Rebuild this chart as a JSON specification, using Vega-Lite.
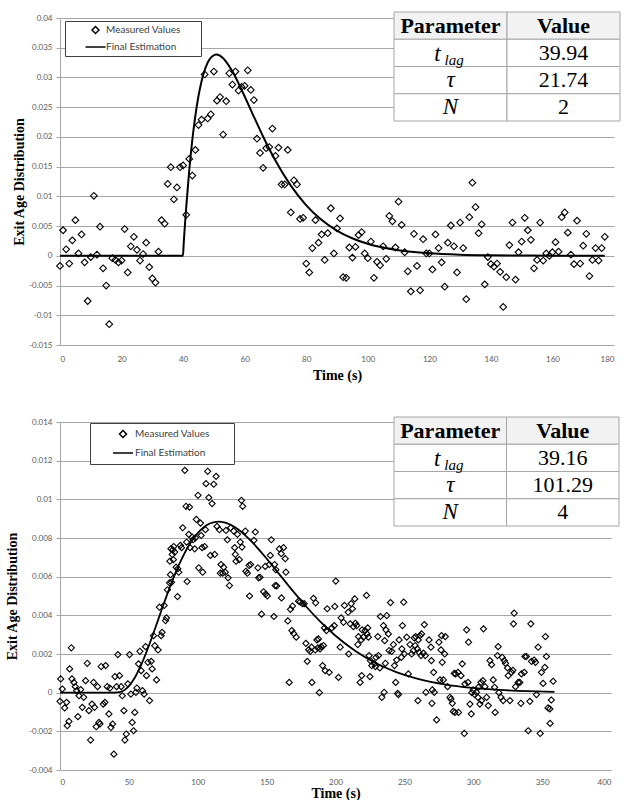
{
"$schema": "https://vega.github.io/schema/vega-lite/v6.json",
"padding": {"left": 5, "top": 11, "right": 0, "bottom": 0},
"spacing": 34,
"background": "white",
"resolve": {"scale": {"shape": "independent"}, "legend": {"shape": "independent"}},
"config": {
  "view": {"stroke": null},
  "axis": {"labelFont": "Lato", "labelFontSize": 8, "labelColor": "#595959", "titleFont": "Liberation Serif", "titleFontWeight": "bold", "titleFontSize": 14, "titleColor": "black", "labelOverlap": false, "tickCount": 50},
  "axisX": {"grid": false, "domain": false, "ticks": false, "tickSize": 0, "labelPadding": 10, "titlePadding": 5},
  "axisY": {"grid": true, "gridColor": "#a6a6a6", "gridWidth": 1, "domain": true, "domainColor": "#a6a6a6", "ticks": true, "tickColor": "#a6a6a6", "tickSize": 4, "labelPadding": 4, "titlePadding": 7}
},
"datasets": {
"pts1": [
{"t":0,"v":-0.0017},{"t":1,"v":0.0043},{"t":2,"v":0.0011},{"t":3,"v":-0.0013},{"t":4,"v":0.0026},{"t":5,"v":0.006},{"t":6,"v":0.0004},{"t":7,"v":0.0036},{"t":8,"v":-0.0011},{"t":9,"v":-0.0076},
{"t":10,"v":-0.0002},{"t":11,"v":0.0101},{"t":12,"v":0.0002},{"t":13,"v":0.0049},{"t":14,"v":-0.0021},{"t":15,"v":-0.005},{"t":16,"v":-0.0115},{"t":17,"v":-0.0004},{"t":18,"v":-0.0007},{"t":19,"v":-0.0011},
{"t":20,"v":-0.0008},{"t":21,"v":0.0045},{"t":22,"v":-0.0028},{"t":23,"v":0.0016},{"t":24,"v":0.0032},{"t":25,"v":0.001},{"t":26,"v":-0.0008},{"t":27,"v":0.0003},{"t":28,"v":0.0022},{"t":29,"v":-0.0019},
{"t":30,"v":-0.0038},{"t":31,"v":-0.0045},{"t":32,"v":0.0007},{"t":33,"v":0.006},{"t":34,"v":0.0054},{"t":35,"v":0.0121},{"t":36,"v":0.0149},{"t":37,"v":0.0095},{"t":38,"v":0.0115},{"t":39,"v":0.0149},
{"t":40,"v":0.0152},{"t":41,"v":0.0069},{"t":42,"v":0.0163},{"t":43,"v":0.0135},{"t":44,"v":0.0178},{"t":45,"v":0.022},{"t":46,"v":0.0229},{"t":47,"v":0.0305},{"t":48,"v":0.0231},{"t":49,"v":0.0238},
{"t":50,"v":0.031},{"t":51,"v":0.0261},{"t":52,"v":0.0267},{"t":53,"v":0.0204},{"t":54,"v":0.026},{"t":55,"v":0.0307},{"t":56,"v":0.0288},{"t":57,"v":0.031},{"t":58,"v":0.0278},{"t":59,"v":0.0284},
{"t":60,"v":0.0286},{"t":61,"v":0.0312},{"t":62,"v":0.0279},{"t":63,"v":0.0262},{"t":64,"v":0.0197},{"t":65,"v":0.0173},{"t":66,"v":0.0148},{"t":67,"v":0.0181},{"t":68,"v":0.0183},{"t":69,"v":0.0214},
{"t":70,"v":0.0168},{"t":71,"v":0.0182},{"t":72,"v":0.012},{"t":73,"v":0.012},{"t":74,"v":0.0178},{"t":75,"v":0.0073},{"t":76,"v":0.0127},{"t":77,"v":0.012},{"t":78,"v":0.0062},{"t":79,"v":0.0064},
{"t":80,"v":-0.0013},{"t":81,"v":-0.0028},{"t":82,"v":0.0013},{"t":83,"v":0.006},{"t":84,"v":0.0022},{"t":85,"v":0.0036},{"t":86,"v":-0.0007},{"t":87,"v":0.0038},{"t":88,"v":0.008},{"t":89,"v":0.0004},
{"t":90,"v":0.0046},{"t":91,"v":0.0063},{"t":92,"v":-0.0036},{"t":93,"v":-0.0037},{"t":94,"v":0.0014},{"t":95,"v":-0.0003},{"t":96,"v":0.0015},{"t":97,"v":0.0035},{"t":98,"v":0.004},{"t":99,"v":0.0004},
{"t":100,"v":-0.0004},{"t":101,"v":0.0024},{"t":102,"v":-0.0037},{"t":103,"v":-0.001},{"t":104,"v":-0.0016},{"t":105,"v":0.0016},{"t":106,"v":-0.0005},{"t":107,"v":0.0067},{"t":108,"v":0.0058},{"t":109,"v":0.0014},
{"t":110,"v":0.0091},{"t":111,"v":0.0052},{"t":112,"v":0.0006},{"t":113,"v":-0.0026},{"t":114,"v":-0.006},{"t":115,"v":0.0037},{"t":116,"v":-0.0017},{"t":117,"v":-0.0058},{"t":118,"v":0.0028},{"t":119,"v":0.0004},
{"t":120,"v":0.0004},{"t":121,"v":-0.0023},{"t":122,"v":0.0036},{"t":123,"v":0.0013},{"t":124,"v":-0.0011},{"t":125,"v":-0.0052},{"t":126,"v":0.0022},{"t":127,"v":0.0051},{"t":128,"v":0.0016},{"t":129,"v":-0.0028},
{"t":130,"v":0.0056},{"t":131,"v":0.0013},{"t":132,"v":-0.0073},{"t":133,"v":0.0065},{"t":134,"v":0.0123},{"t":135,"v":0.0082},{"t":136,"v":0.0038},{"t":137,"v":0.0053},{"t":138,"v":-0.0048},{"t":139,"v":-0.0002},
{"t":140,"v":-0.0014},{"t":141,"v":-0.0018},{"t":142,"v":-0.0013},{"t":143,"v":-0.0027},{"t":144,"v":-0.0086},{"t":145,"v":-0.0036},{"t":146,"v":0.0018},{"t":147,"v":0.0056},{"t":148,"v":-0.004},{"t":149,"v":0.0006},
{"t":150,"v":0.0024},{"t":151,"v":0.0064},{"t":152,"v":0.0043},{"t":153,"v":0.0027},{"t":154,"v":-0.0021},{"t":155,"v":-0.0007},{"t":156,"v":0.0056},{"t":157,"v":-0.0008},{"t":158,"v":0.0004},{"t":159,"v":0},
{"t":160,"v":0.0006},{"t":161,"v":0.0023},{"t":162,"v":0.0007},{"t":163,"v":0.0065},{"t":164,"v":0.0073},{"t":165,"v":0.0039},{"t":166,"v":0.0002},{"t":167,"v":-0.0014},{"t":168,"v":0.0059},{"t":169,"v":-0.0013},
{"t":170,"v":0.0017},{"t":171,"v":0.0037},{"t":172,"v":-0.0034},{"t":173,"v":-0.0007},{"t":174,"v":0.0013},{"t":175,"v":-0.0008},{"t":176,"v":0.0013},{"t":177,"v":0.0032}
],
"fit1": [
{"t":0,"v":0},{"t":39.94,"v":0},{"t":40.19,"v":0.00207},{"t":40.44,"v":0.00404},{"t":40.94,"v":0.00772},{"t":41.94,"v":0.01408},{"t":42.94,"v":0.01927},{"t":43.94,"v":0.02343},{"t":44.94,"v":0.02672},{"t":45.94,"v":0.02924},{"t":47.94,"v":0.03244},{"t":49.94,"v":0.03373},{"t":50.81,"v":0.03384},{"t":51.94,"v":0.03367},{"t":53.94,"v":0.03268},{"t":55.94,"v":0.03107},{"t":57.94,"v":0.02908},{"t":59.94,"v":0.02688},{"t":62.94,"v":0.02346},{"t":65.94,"v":0.02012},{"t":69.94,"v":0.01608},{"t":74.94,"v":0.01184},{"t":79.94,"v":0.00854},{"t":84.94,"v":0.00606},{"t":89.94,"v":0.00425},{"t":94.94,"v":0.00296},{"t":99.94,"v":0.00203},{"t":109.94,"v":0.00095},{"t":119.94,"v":0.00043},{"t":129.94,"v":0.00019},{"t":139.94,"v":0.00009},{"t":159.94,"v":0.00002},{"t":177,"v":0.000004}
],
"tab1": [
{"row":"h","col":"p","text":"Parameter","kind":"head"},
{"row":"h","col":"v","text":"Value","kind":"head"},
{"row":"r1","col":"p","text":"t","kind":"tsym"},
{"row":"r1","col":"p","text":"lag","kind":"sub"},
{"row":"r1","col":"v","text":"39.94","kind":"num"},
{"row":"r2","col":"p","text":"τ","kind":"sym"},
{"row":"r2","col":"v","text":"21.74","kind":"num"},
{"row":"r3","col":"p","text":"N","kind":"sym"},
{"row":"r3","col":"v","text":"2","kind":"num"}
],
"pts2": [
{"t":0,"v":-0.00045},{"t":0.5,"v":0.00071},{"t":1.7,"v":0.00019},{"t":3.4,"v":-0.00079},{"t":4.8,"v":-0.0005},{"t":5.3,"v":-0.00171},{"t":6.5,"v":-0.00149},{"t":7,"v":0.00123},{"t":8.2,"v":0.00232},{"t":8.7,"v":0.00071},
{"t":10.1,"v":0.00053},{"t":11.1,"v":0.00031},{"t":12.1,"v":0.0001},{"t":13,"v":-0.00124},{"t":13.8,"v":-0.00016},{"t":15,"v":0.00016},{"t":16.2,"v":-0.00076},{"t":17.2,"v":-0.00024},{"t":18.6,"v":0.00062},{"t":19.8,"v":0.00152},
{"t":21,"v":-0.00093},{"t":22.2,"v":-0.00245},{"t":23.2,"v":-0.00059},{"t":24.4,"v":0.00053},{"t":25.1,"v":-0.00076},{"t":26.3,"v":-0.00176},{"t":27.3,"v":0.00031},{"t":28.3,"v":-0.00154},{"t":29,"v":-0.00162},{"t":29.9,"v":0.00135},
{"t":31.4,"v":-0.00059},{"t":32.6,"v":-0.0005},{"t":33.1,"v":0.0014},{"t":34.3,"v":0.00031},{"t":35.5,"v":-0.0011},{"t":36.2,"v":0.00024},{"t":37,"v":-0.0018},{"t":38.2,"v":-0.00162},{"t":39.1,"v":-0.00318},{"t":39.9,"v":0.00083},
{"t":41.1,"v":0.00031},{"t":42,"v":0.00197},{"t":43.2,"v":0.00088},{"t":44.4,"v":0.00031},{"t":45.2,"v":-0.00016},{"t":46.4,"v":-0.00093},{"t":47.1,"v":-0.00245},{"t":48.1,"v":-0.00214},{"t":49.3,"v":0.00045},{"t":50.5,"v":0.00197},
{"t":51.4,"v":-0.00007},{"t":52.4,"v":-0.00154},{"t":53.4,"v":-0.00197},{"t":54.3,"v":-0.00102},{"t":55.1,"v":0.00002},{"t":55.8,"v":0.00024},{"t":57,"v":0.00149},{"t":58,"v":0.00214},{"t":58.9,"v":0.00114},{"t":59.9,"v":0.0001},
{"t":61.1,"v":-0.00007},{"t":62.1,"v":0.00238},{"t":62.8,"v":0.00088},{"t":63.8,"v":0.00157},{"t":65,"v":-0.00041},{"t":66.2,"v":0.00162},{"t":66.9,"v":0.00123},{"t":67.9,"v":0.00295},{"t":68.8,"v":0.00243},{"t":70.1,"v":0.00066},
{"t":71.2,"v":0.00221},{"t":72.2,"v":0.00442},{"t":73.4,"v":0.00295},{"t":74.1,"v":0.00312},{"t":75.6,"v":0.00451},{"t":76.6,"v":0.00373},{"t":77.3,"v":0.00387},{"t":78,"v":0.00532},{"t":79.5,"v":0.00568},{"t":79.8,"v":0.0068},
{"t":80.2,"v":0.0061},{"t":80.5,"v":0.00744},{"t":80.9,"v":0.00571},{"t":81.5,"v":0.00715},{"t":81.9,"v":0.00739},{"t":82.3,"v":0.00688},{"t":82.6,"v":0.00756},{"t":83.3,"v":0.00727},{"t":84.3,"v":0.00649},{"t":85.3,"v":0.00497},
{"t":85.5,"v":0.00641},{"t":86.2,"v":0.00623},{"t":87.4,"v":0.00762},{"t":88.2,"v":0.0075},{"t":89.1,"v":0.00853},{"t":90.6,"v":0.0115},{"t":91.5,"v":0.00964},{"t":91.9,"v":0.00779},{"t":92.3,"v":0.00575},{"t":93.5,"v":0.00819},
{"t":94,"v":0.0096},{"t":94.4,"v":0.0075},{"t":95.9,"v":0.00805},{"t":96.6,"v":0.00791},{"t":97.8,"v":0.00744},{"t":98.3,"v":0.00801},{"t":99,"v":0.00896},{"t":100.2,"v":0.01021},{"t":100.7,"v":0.00646},{"t":102,"v":0.00877},
{"t":102.5,"v":0.00813},{"t":103.1,"v":0.0075},{"t":103.6,"v":0.00623},{"t":105,"v":0.00756},{"t":105.6,"v":0.00843},{"t":106,"v":0.01081},{"t":107.2,"v":0.01145},{"t":108,"v":0.01009},{"t":109.2,"v":0.0071},{"t":110.4,"v":0.00978},
{"t":111.6,"v":0.01078},{"t":112.3,"v":0.00715},{"t":113.3,"v":0.01119},{"t":114,"v":0.0086},{"t":115.7,"v":0.00843},{"t":116.4,"v":0.00618},{"t":116.9,"v":0.00663},{"t":118.1,"v":0.00618},{"t":118.8,"v":0.00649},{"t":120,"v":0.00623},
{"t":120.5,"v":0.00839},{"t":121.5,"v":0.00791},{"t":122,"v":0.00594},{"t":123,"v":0.00554},{"t":123.9,"v":0.00853},{"t":126.1,"v":0.00836},{"t":126.8,"v":0.0075},{"t":127.3,"v":0.00715},{"t":127.8,"v":0.0068},{"t":128.8,"v":0.00819},
{"t":130.2,"v":0.00688},{"t":130.9,"v":0.00779},{"t":131.7,"v":0.00995},{"t":132.1,"v":0.00753},{"t":132.6,"v":0.00964},{"t":134.5,"v":0.00836},{"t":135,"v":0.00628},{"t":136,"v":0.00618},{"t":137.3,"v":0.00658},{"t":137.6,"v":0.005},
{"t":138.4,"v":0.00663},{"t":140.8,"v":0.00788},{"t":141.8,"v":0.00831},{"t":143.7,"v":0.00646},{"t":144.2,"v":0.00594},{"t":145.2,"v":0.00597},{"t":146.3,"v":0.00406},{"t":147.8,"v":0.00522},{"t":149,"v":0.00653},{"t":149.3,"v":0.0051},
{"t":150.5,"v":0.005},{"t":152,"v":0.00663},{"t":152.7,"v":0.0071},{"t":153.4,"v":0.00791},{"t":155.3,"v":0.00394},{"t":155.8,"v":0.00663},{"t":156.2,"v":0.00554},{"t":156.7,"v":0.00636},{"t":157.3,"v":0.00552},{"t":159.2,"v":0.00744},
{"t":160.6,"v":0.00719},{"t":160.8,"v":0.0049},{"t":162.3,"v":0.0075},{"t":163.5,"v":0.00693},{"t":164,"v":0.00623},{"t":165.4,"v":0.00371},{"t":166.4,"v":0.00053},{"t":167.3,"v":0.00431},{"t":168.3,"v":0.00321},{"t":168.8,"v":0.00448},
{"t":169.6,"v":0.00306},{"t":171.5,"v":0.00287},{"t":173.2,"v":0.00473},{"t":174.4,"v":0.0047},{"t":176.1,"v":0.0046},{"t":177.3,"v":0.0046},{"t":178.5,"v":0.00255},{"t":179.5,"v":0.00162},{"t":180.5,"v":0.00222},{"t":181.7,"v":0.00214},
{"t":182.6,"v":0.00235},{"t":182.9,"v":0.00053},{"t":184,"v":0.00488},{"t":185.3,"v":0.00221},{"t":185.6,"v":0.00465},{"t":186.5,"v":0.00273},{"t":187.2,"v":0.00232},{"t":187.6,"v":0.00278},{"t":188.3,"v":0},{"t":188.8,"v":0.00226},
{"t":189.6,"v":0.00238},{"t":190.6,"v":0.0014},{"t":191.3,"v":0.00244},{"t":192,"v":0.00335},{"t":192.5,"v":0.00114},{"t":193.4,"v":0.00321},{"t":194,"v":0.00434},{"t":195.4,"v":0.00105},{"t":197.3,"v":0.00335},{"t":199.1,"v":0.00347},
{"t":199.5,"v":0.00446},{"t":200.2,"v":0.00577},{"t":202.2,"v":0.00079},{"t":203.4,"v":0.00235},{"t":204.1,"v":0.00387},{"t":205.8,"v":0.00364},{"t":206.5,"v":0.00451},{"t":209.2,"v":0.00416},{"t":209.6,"v":0.002},{"t":210.7,"v":0.00356},
{"t":211.4,"v":0.0046},{"t":212.3,"v":0.00434},{"t":213,"v":0.00342},{"t":214,"v":0.00485},{"t":214.5,"v":0.00359},{"t":215.4,"v":0.00347},{"t":216.2,"v":0.00249},{"t":216.7,"v":0.0029},{"t":217.9,"v":0.00053},{"t":218.6,"v":0.00273},
{"t":219,"v":0.00088},{"t":219.3,"v":0.00325},{"t":220.3,"v":0.00287},{"t":221.5,"v":0.00321},{"t":222.5,"v":0.00503},{"t":222.9,"v":0.00304},{"t":223.4,"v":0.00335},{"t":223.9,"v":0.00287},{"t":224.4,"v":0.00192},{"t":225,"v":0.00083},
{"t":225.3,"v":0.00166},{"t":226.3,"v":0.0014},{"t":228.3,"v":0.00149},{"t":229,"v":0.00135},{"t":229.4,"v":0.00183},{"t":230.7,"v":0.0029},{"t":231.2,"v":0.00192},{"t":232.2,"v":0.00128},{"t":232.6,"v":0.00394},{"t":233.6,"v":-0.00024},
{"t":234.8,"v":0.00347},{"t":235.3,"v":0.00002},{"t":235.7,"v":0.00269},{"t":236.2,"v":0.00152},{"t":236.6,"v":0.00325},{"t":237.2,"v":0.00399},{"t":238.4,"v":0.00304},{"t":238.9,"v":0.00218},{"t":239.9,"v":0.00466},{"t":240.8,"v":0.00214},
{"t":242,"v":0.00249},{"t":242.8,"v":0.0014},{"t":243.7,"v":0.00053},{"t":244.4,"v":0.00169},{"t":245.1,"v":-0.00004},{"t":245.7,"v":-0.0001},{"t":246.2,"v":0.00273},{"t":247.8,"v":0.00183},{"t":248.2,"v":0.00226},{"t":248.6,"v":0.00347},
{"t":249.5,"v":0.00468},{"t":250,"v":0.002},{"t":251.7,"v":0.00287},{"t":252.9,"v":0.00097},{"t":254.1,"v":0.00249},{"t":255.3,"v":0.002},{"t":256.5,"v":0.00218},{"t":257.2,"v":0.00283},{"t":257.8,"v":0.00244},{"t":258.2,"v":0.0029},
{"t":259.4,"v":0.00226},{"t":259.8,"v":-0.00041},{"t":260.1,"v":0.00273},{"t":260.6,"v":0.00209},{"t":261.4,"v":0.00295},{"t":262.1,"v":0.00192},{"t":262.5,"v":0.00304},{"t":263.8,"v":0.00204},{"t":264.5,"v":0.00352},{"t":265.2,"v":0.00192},
{"t":265.6,"v":0.00002},{"t":267.9,"v":0.00273},{"t":269.3,"v":0.00235},{"t":269.6,"v":0.00166},{"t":270,"v":-0.00055},{"t":270.3,"v":0.00014},{"t":271.2,"v":0.00105},{"t":271.7,"v":0.00002},{"t":273.4,"v":-0.00141},{"t":275.1,"v":0.00261},
{"t":275.9,"v":0.00066},{"t":276.6,"v":0.00221},{"t":277,"v":0.00295},{"t":277.5,"v":0.00157},{"t":278.3,"v":0.00066},{"t":279.3,"v":0.002},{"t":279.7,"v":0.0029},{"t":281.4,"v":0.00031},{"t":283.1,"v":-0.00024},{"t":283.8,"v":-0.00033},
{"t":284.8,"v":-0.00055},{"t":285.5,"v":-0.00097},{"t":286.2,"v":0.001},{"t":286.7,"v":-0.00102},{"t":287.2,"v":0.00097},{"t":288.9,"v":0.00105},{"t":289.3,"v":-0.00102},{"t":291.1,"v":0.00088},{"t":292,"v":0.00149},{"t":293.5,"v":-0.00211},
{"t":294,"v":0.00045},{"t":295.2,"v":0.00325},{"t":296.2,"v":0.00053},{"t":296.6,"v":0.00261},{"t":297.6,"v":-0.00059},{"t":298.6,"v":-0.0011},{"t":299,"v":0},{"t":299.9,"v":0.00014},{"t":301.1,"v":-0.0001},{"t":302.3,"v":0.00002},
{"t":303.4,"v":-0.00024},{"t":303.8,"v":0.00028},{"t":304.8,"v":-0.00059},{"t":305.6,"v":0.00053},{"t":306,"v":-0.00041},{"t":307,"v":0.00062},{"t":307.4,"v":0.0033},{"t":308.5,"v":0.00031},{"t":309.7,"v":-0.00024},{"t":310.9,"v":-0.00067},
{"t":312.1,"v":0.00166},{"t":313.3,"v":0.00145},{"t":314.5,"v":0.00066},{"t":315.5,"v":0.00028},{"t":315.9,"v":-0.00102},{"t":317.6,"v":0.00192},{"t":318.1,"v":0.00238},{"t":318.6,"v":0},{"t":320.1,"v":-0.00024},{"t":321,"v":0.00183},
{"t":321.7,"v":-0.00041},{"t":322.5,"v":0.00166},{"t":323.4,"v":0.00152},{"t":324.9,"v":0.00128},{"t":325.4,"v":0.00088},{"t":326.6,"v":-0.00041},{"t":327.8,"v":0.00105},{"t":328.8,"v":0.00116},{"t":329.2,"v":0.00356},{"t":329.7,"v":0.00411},
{"t":330.7,"v":0.00031},{"t":332.6,"v":0.00053},{"t":333.8,"v":0.00053},{"t":334.6,"v":-0.00055},{"t":335,"v":0.00097},{"t":337,"v":0.00105},{"t":337.5,"v":0.00187},{"t":338.6,"v":0.00187},{"t":339.9,"v":-0.00197},{"t":341.1,"v":-0.00045},
{"t":341.8,"v":0.00356},{"t":342.3,"v":0.00162},{"t":344.2,"v":0.00169},{"t":345.2,"v":0.00157},{"t":345.9,"v":-0.0001},{"t":347.1,"v":0.00235},{"t":348.6,"v":-0.00211},{"t":349.5,"v":0.00105},{"t":350.7,"v":0.00048},{"t":352,"v":0.00131},
{"t":352.4,"v":0.0029},{"t":353.1,"v":0.00187},{"t":354.3,"v":-0.00079},{"t":355.6,"v":-0.00084},{"t":355.8,"v":-0.00159},{"t":356.7,"v":-0.00038},{"t":358,"v":0.00059}
],
"fit2": [
{"t":0,"v":0},{"t":39.16,"v":0},{"t":44.16,"v":0.0000416},{"t":49.16,"v":0.000273},{"t":54.16,"v":0.000757},{"t":59.16,"v":0.001472},{"t":64.16,"v":0.00236},{"t":69.16,"v":0.003347},{"t":74.16,"v":0.004363},{"t":79.16,"v":0.005346},{"t":84.16,"v":0.006247},{"t":89.16,"v":0.007035},{"t":94.16,"v":0.007685},{"t":99.16,"v":0.008189},{"t":104.16,"v":0.008546},{"t":109.16,"v":0.008761},{"t":115.13,"v":0.008849},{"t":119.16,"v":0.008811},{"t":124.16,"v":0.008675},{"t":129.16,"v":0.008453},{"t":139.16,"v":0.007812},{"t":149.16,"v":0.007005},{"t":159.16,"v":0.006128},{"t":169.16,"v":0.005249},{"t":179.16,"v":0.004417},{"t":189.16,"v":0.00366},{"t":199.16,"v":0.002993},{"t":214.16,"v":0.002166},{"t":229.16,"v":0.001533},{"t":244.16,"v":0.001065},{"t":259.16,"v":0.000728},{"t":279.16,"v":0.000429},{"t":299.16,"v":0.000248},{"t":319.16,"v":0.00014},{"t":339.16,"v":0.000078},{"t":359,"v":0.000043}
],
"tab2": [
{"row":"h","col":"p","text":"Parameter","kind":"head"},
{"row":"h","col":"v","text":"Value","kind":"head"},
{"row":"r1","col":"p","text":"t","kind":"tsym"},
{"row":"r1","col":"p","text":"lag","kind":"sub"},
{"row":"r1","col":"v","text":"39.16","kind":"num"},
{"row":"r2","col":"p","text":"τ","kind":"sym"},
{"row":"r2","col":"v","text":"101.29","kind":"num"},
{"row":"r3","col":"p","text":"N","kind":"sym"},
{"row":"r3","col":"v","text":"4","kind":"num"}
]
},
"vconcat": [
{
  "width": 554, "height": 327,
  "layer": [
    {"layer": [
      {"data": {"name": "pts1"},
       "mark": {"type": "point", "filled": false, "color": "black", "strokeWidth": 1.1, "size": 45, "opacity": 1},
       "encoding": {
         "x": {"field": "t", "type": "quantitative", "scale": {"domain": [0, 180], "nice": false}, "axis": {"values": [0,20,40,60,80,100,120,140,160,180], "title": "Time (s)"}},
         "y": {"field": "v", "type": "quantitative", "scale": {"domain": [-0.015, 0.04], "nice": false, "zero": false}, "axis": {"values": [-0.015,-0.01,-0.005,0,0.005,0.01,0.015,0.02,0.025,0.03,0.035,0.04], "tickCount": 50, "labelOverlap": false, "title": "Exit Age Distribution", "labelExpr": "'' + datum.value", "titlePadding": 2}},
         "shape": {"datum": "Measured Values", "type": "nominal", "scale": {"domain": ["Measured Values", "Final Estimation"], "range": ["diamond", "M-2.86,0H2.86M28.1,0"]},
           "legend": {"orient": "none", "legendX": 5, "legendY": 3, "title": null, "padding": 4, "rowPadding": 5, "symbolOffset": 21.5, "labelOffset": 5.5, "symbolSize": 49, "symbolStrokeWidth": 1.5, "symbolStrokeColor": "black", "labelFont": "Lato", "labelFontSize": 10, "labelColor": "#404040", "strokeColor": "#404040", "fillColor": "white", "labelLimit": 300}}
       }},
      {"data": {"name": "fit1"},
       "mark": {"type": "line", "color": "black", "strokeWidth": 2, "interpolate": "monotone"},
       "encoding": {"x": {"field": "t", "type": "quantitative"}, "y": {"field": "v", "type": "quantitative"}}}
    ]},
    {"data": {"name": "tab1"},
     "encoding": {
       "x": {"field": "col", "type": "nominal", "scale": {"domain": ["p", "v"], "range": [334, 560], "paddingInner": 0, "paddingOuter": 0}, "axis": null},
       "y": {"field": "row", "type": "nominal", "scale": {"domain": ["h", "r1", "r2", "r3"], "range": [-6, 103], "paddingInner": 0, "paddingOuter": 0}, "axis": null}
     },
     "layer": [
       {"transform": [{"filter": "datum.kind !== 'sub'"}], "mark": {"type": "rect", "stroke": "#a6a6a6", "strokeWidth": 1}, "encoding": {"fill": {"condition": {"test": "datum.kind === 'head'", "value": "#f2f2f2"}, "value": "white"}}},
       {"transform": [{"filter": "datum.kind === 'head'"}], "mark": {"type": "text", "font": "Liberation Serif", "fontWeight": "bold", "fontSize": 22, "color": "black"}, "encoding": {"text": {"field": "text"}}},
       {"transform": [{"filter": "datum.kind === 'num'"}], "mark": {"type": "text", "font": "Liberation Serif", "fontSize": 22, "color": "black"}, "encoding": {"text": {"field": "text"}}},
       {"transform": [{"filter": "datum.kind === 'sym'"}], "mark": {"type": "text", "font": "Liberation Serif", "fontStyle": "italic", "fontSize": 23, "color": "black"}, "encoding": {"text": {"field": "text"}}},
       {"transform": [{"filter": "datum.kind === 'tsym'"}], "mark": {"type": "text", "font": "Liberation Serif", "fontStyle": "italic", "fontSize": 23, "color": "black", "dx": -13, "dy": 1}, "encoding": {"text": {"field": "text"}}},
       {"transform": [{"filter": "datum.kind === 'sub'"}], "mark": {"type": "text", "font": "Liberation Serif", "fontStyle": "italic", "fontSize": 15, "color": "black", "align": "left", "dx": -6, "dy": 7}, "encoding": {"text": {"field": "text"}}}
     ]}
  ],
  "resolve": {"scale": {"x": "independent", "y": "independent"}}
},
{
  "width": 551, "height": 348,
  "layer": [
    {"layer": [
      {"data": {"name": "pts2"},
       "mark": {"type": "point", "filled": false, "color": "black", "strokeWidth": 1.1, "size": 38, "opacity": 1},
       "encoding": {
         "x": {"field": "t", "type": "quantitative", "scale": {"domain": [0, 400], "nice": false}, "axis": {"values": [0,50,100,150,200,250,300,350,400], "title": "Time (s)", "labelPadding": 8, "titlePadding": 0}},
         "y": {"field": "v", "type": "quantitative", "scale": {"domain": [-0.004, 0.014], "nice": false, "zero": false}, "axis": {"values": [-0.004,-0.002,0,0.002,0.004,0.006,0.008,0.01,0.012,0.014], "tickCount": 50, "labelOverlap": false, "title": "Exit Age Distribution", "labelExpr": "'' + datum.value", "titlePadding": 9}},
         "shape": {"datum": "Measured Values", "type": "nominal", "scale": {"domain": ["Measured Values", "Final Estimation"], "range": ["diamond", "M-2.86,0H2.86M29.1,0"]},
           "legend": {"orient": "none", "legendX": 30, "legendY": 1, "title": null, "padding": 6, "rowPadding": 7, "symbolOffset": 22, "labelOffset": 7, "symbolSize": 49, "symbolStrokeWidth": 1.5, "symbolStrokeColor": "black", "labelFont": "Lato", "labelFontSize": 10, "labelColor": "#404040", "strokeColor": "#404040", "fillColor": "white", "labelLimit": 300}}
       }},
      {"data": {"name": "fit2"},
       "mark": {"type": "line", "color": "black", "strokeWidth": 1.8, "interpolate": "monotone"},
       "encoding": {"x": {"field": "t", "type": "quantitative"}, "y": {"field": "v", "type": "quantitative"}}}
    ]},
    {"data": {"name": "tab2"},
     "encoding": {
       "x": {"field": "col", "type": "nominal", "scale": {"domain": ["p", "v"], "range": [334, 559], "paddingInner": 0, "paddingOuter": 0}, "axis": null},
       "y": {"field": "row", "type": "nominal", "scale": {"domain": ["h", "r1", "r2", "r3"], "range": [-5, 104], "paddingInner": 0, "paddingOuter": 0}, "axis": null}
     },
     "layer": [
       {"transform": [{"filter": "datum.kind !== 'sub'"}], "mark": {"type": "rect", "stroke": "#a6a6a6", "strokeWidth": 1}, "encoding": {"fill": {"condition": {"test": "datum.kind === 'head'", "value": "#f2f2f2"}, "value": "white"}}},
       {"transform": [{"filter": "datum.kind === 'head'"}], "mark": {"type": "text", "font": "Liberation Serif", "fontWeight": "bold", "fontSize": 22, "color": "black"}, "encoding": {"text": {"field": "text"}}},
       {"transform": [{"filter": "datum.kind === 'num'"}], "mark": {"type": "text", "font": "Liberation Serif", "fontSize": 22, "color": "black"}, "encoding": {"text": {"field": "text"}}},
       {"transform": [{"filter": "datum.kind === 'sym'"}], "mark": {"type": "text", "font": "Liberation Serif", "fontStyle": "italic", "fontSize": 23, "color": "black"}, "encoding": {"text": {"field": "text"}}},
       {"transform": [{"filter": "datum.kind === 'tsym'"}], "mark": {"type": "text", "font": "Liberation Serif", "fontStyle": "italic", "fontSize": 23, "color": "black", "dx": -13, "dy": 1}, "encoding": {"text": {"field": "text"}}},
       {"transform": [{"filter": "datum.kind === 'sub'"}], "mark": {"type": "text", "font": "Liberation Serif", "fontStyle": "italic", "fontSize": 15, "color": "black", "align": "left", "dx": -6, "dy": 7}, "encoding": {"text": {"field": "text"}}}
     ]}
  ],
  "resolve": {"scale": {"x": "independent", "y": "independent"}}
}
]
}
